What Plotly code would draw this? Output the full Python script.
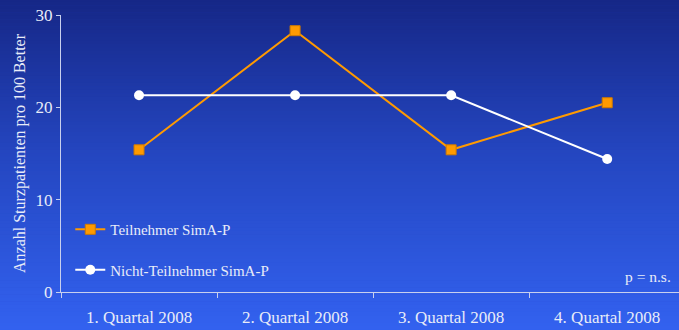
import plotly.graph_objects as go

quartale = ["1. Quartal 2008", "2. Quartal 2008", "3. Quartal 2008", "4. Quartal 2008"]
teilnehmer = [15.4, 28.3, 15.4, 20.5]
nicht_teilnehmer = [21.3, 21.3, 21.3, 14.4]
y_ticks = [0, 10, 20, 30]

W, H = 679, 330
FONT = "Liberation Serif, Times New Roman, serif"
TXT = "#e8ecf8"
AXIS = "#c8d0ee"

# vertical background gradient built from thin bands
top = (0x12, 0x1f, 0x78)
mid = (0x24, 0x46, 0xc0)
bot = (0x34, 0x64, 0xf4)
bands = 110
shapes = []
for i in range(bands):
    t = i / (bands - 1)
    if t < 0.5:
        a, b, s = top, mid, t / 0.5
    else:
        a, b, s = mid, bot, (t - 0.5) / 0.5
    c = tuple(round(a[k] + (b[k] - a[k]) * s) for k in range(3))
    shapes.append(dict(
        type="rect", xref="paper", yref="paper", layer="below",
        x0=-0.2, x1=1.2,
        y0=1 + 0.2 - (i + 1) * 1.4 / bands - 0.001,
        y1=1 + 0.2 - i * 1.4 / bands + 0.001,
        fillcolor="rgb(%d,%d,%d)" % c, line=dict(width=0),
    ))

fig = go.Figure()
fig.add_trace(go.Scatter(
    x=quartale, y=teilnehmer, name="Teilnehmer SimA-P",
    mode="lines+markers", legendgroup="a",
    line=dict(color="#ff9a00", width=2),
    marker=dict(symbol="square", size=10, color="#ff9a00",
                line=dict(color="#d07a00", width=1)),
))
fig.add_trace(go.Scatter(
    x=quartale, y=nicht_teilnehmer, name="Nicht-Teilnehmer SimA-P",
    mode="lines+markers", legendgroup="b",
    line=dict(color="#ffffff", width=2),
    marker=dict(symbol="circle", size=10, color="#ffffff"),
))

fig.update_layout(
    width=W, height=H,
    margin=dict(l=61, r=0, t=15, b=38),
    paper_bgcolor="#2446c0", plot_bgcolor="rgba(0,0,0,0)",
    shapes=shapes,
    font=dict(family=FONT, color=TXT, size=17),
    showlegend=True,
    legend=dict(
        x=0.015, y=0.285, xanchor="left", yanchor="top",
        bgcolor="rgba(0,0,0,0)", font=dict(size=15, color=TXT, family=FONT),
        tracegroupgap=18, itemwidth=30,
    ),
    xaxis=dict(
        type="category", range=[-0.5, 3.46],
        showline=True, linecolor=AXIS, linewidth=1,
        ticks="outside", tickson="boundaries", ticklen=5, tickcolor=AXIS,
        ticklabelstandoff=10,
        showgrid=False, zeroline=False,
        tickfont=dict(size=17, color=TXT, family=FONT),
    ),
    yaxis=dict(
        range=[0, 30], tickvals=y_ticks,
        showline=True, linecolor=AXIS, linewidth=1,
        ticks="outside", ticklen=4, tickcolor=AXIS,
        showgrid=False, zeroline=False,
        tickfont=dict(size=17, color=TXT, family=FONT),
        title=dict(text="Anzahl Sturzpatienten pro 100 Better",
                   font=dict(size=16, color=TXT, family=FONT), standoff=5),
    ),
    annotations=[dict(
        text="p = n.s.", xref="paper", yref="paper", x=0.99, y=0.055,
        xanchor="right", yanchor="middle", showarrow=False,
        font=dict(size=15.5, color=TXT, family=FONT),
    )],
)

fig.write_html("out.html")
